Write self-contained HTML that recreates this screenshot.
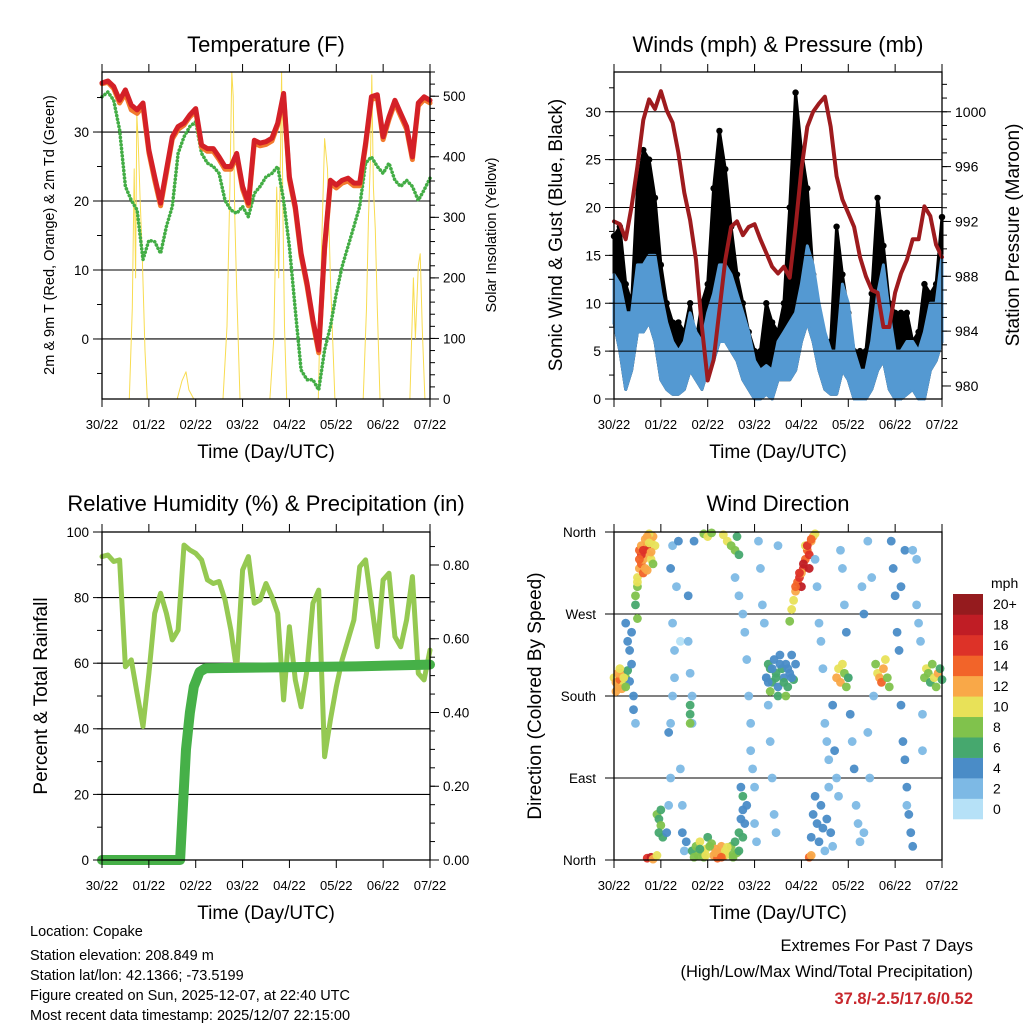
<!DOCTYPE html>
<html><head><meta charset="utf-8">
<style>
html,body{margin:0;padding:0;background:#fff;}
svg{display:block;font-family:"Liberation Sans",Arial,sans-serif;}
</style></head>
<body>
<svg id="fig" width="1024" height="1024" viewBox="0 0 1024 1024" xmlns="http://www.w3.org/2000/svg">
<rect x="0" y="0" width="1024" height="1024" fill="#fff"/>
<g id="layer"></g>
<text x="266" y="52" font-size="22" text-anchor="middle">Temperature (F)</text>
<text x="778" y="52" font-size="22" text-anchor="middle">Winds (mph) &amp; Pressure (mb)</text>
<text x="266" y="511" font-size="22" text-anchor="middle">Relative Humidity (%) &amp; Precipitation (in)</text>
<text x="778" y="511" font-size="22" text-anchor="middle">Wind Direction</text>
<text x="266" y="458" font-size="19" text-anchor="middle">Time (Day/UTC)</text>
<text x="778" y="458" font-size="19" text-anchor="middle">Time (Day/UTC)</text>
<text x="266" y="919" font-size="19" text-anchor="middle">Time (Day/UTC)</text>
<text x="778" y="919" font-size="19" text-anchor="middle">Time (Day/UTC)</text>
<text transform="translate(54,235) rotate(-90)" font-size="14.5" text-anchor="middle">2m &amp; 9m T (Red, Orange) &amp; 2m Td (Green)</text>
<text transform="translate(496,235) rotate(-90)" font-size="14.5" text-anchor="middle">Solar Insolation (Yellow)</text>
<text transform="translate(562,235) rotate(-90)" font-size="19" text-anchor="middle">Sonic Wind &amp; Gust (Blue, Black)</text>
<text transform="translate(1019,235) rotate(-90)" font-size="19" text-anchor="middle">Station Pressure (Maroon)</text>
<text transform="translate(47,696) rotate(-90)" font-size="19" text-anchor="middle">Percent &amp; Total Rainfall</text>
<text transform="translate(541,696) rotate(-90)" font-size="19" text-anchor="middle">Direction (Colored By Speed)</text>
<g font-size="14.5">
<text x="30" y="936">Location: Copake</text>
<text x="30" y="960">Station elevation: 208.849 m</text>
<text x="30" y="980">Station lat/lon: 42.1366; -73.5199</text>
<text x="30" y="1000">Figure created on Sun, 2025-12-07, at 22:40 UTC</text>
<text x="30" y="1020">Most recent data timestamp: 2025/12/07 22:15:00</text>
</g>
<text x="973" y="951" font-size="16.5" text-anchor="end">Extremes For Past 7 Days</text>
<text x="973" y="977" font-size="16.5" text-anchor="end">(High/Low/Max Wind/Total Precipitation)</text>
<text x="973" y="1004" font-size="16.5" font-weight="bold" fill="#c8282e" text-anchor="end">37.8/-2.5/17.6/0.52</text>
</svg>
<script>
// ---------- DATA (3-hourly, hours 0..168) ----------
const dayLabels = ["30/22","01/22","02/22","03/22","04/22","05/22","06/22","07/22"];
const tempRed = [37.1,37.4,36.6,34.6,36.1,33.9,33.2,34.2,27.4,23.5,19.7,24.5,29.3,30.8,31.3,32.5,33.4,28.1,27.6,27.6,26.4,25.0,25.0,26.9,22.1,19.7,28.8,28.4,28.6,29.1,31.3,35.6,23.5,19.2,12.4,8.1,2.8,-1.6,13.4,23.0,22.3,23.0,23.3,22.6,22.6,28.4,35.1,35.4,29.3,32.2,34.6,32.7,30.8,26.4,34.2,35.1,34.6];
const tempOrange = [37.0,37.2,36.3,34.2,35.6,33.2,32.7,33.7,27.0,23.0,19.3,24.0,29.0,30.4,31.0,32.2,33.0,27.8,27.2,27.2,26.0,24.6,24.6,26.5,21.7,19.3,28.4,28.0,28.2,28.7,31.0,35.2,23.1,18.8,12.0,7.7,2.4,-2.0,13.0,22.6,21.9,22.6,22.9,22.2,22.2,28.0,34.7,35.0,28.9,31.8,34.2,32.3,30.4,26.0,33.8,34.7,34.2];
const dewGreen = [35.1,35.8,34.6,30.3,22.1,20.1,18.7,11.5,14.3,14.1,12.4,16.3,19.2,26.9,29.3,30.8,31.5,26.9,25.5,25.0,24.0,20.1,18.7,18.2,19.2,17.7,21.1,22.1,23.5,24.0,25.0,20.1,13.4,4.2,-4.5,-5.9,-5.9,-7.4,-1.6,1.8,6.6,10.5,13.4,16.3,19.2,25.5,26.4,25.0,24.0,25.5,23.0,22.1,23.0,22.1,20.1,21.6,23.3];
const solarHours = [0,14,15.5,16.5,17.2,17.8,18.5,19.5,20.5,22,23.2,38.5,41,43,44.5,47,62,64,65.5,66.5,67.2,68,69,70.7,86,88,89.5,90.5,91.5,92,92.7,93.5,94.6,110.8,112.5,114,115.5,117,119.3,133.8,135.5,136.5,137.5,138.2,139,140,141,142.4,157.7,159.5,160.5,162,163,164,165.4,168];
const solarWatts = [0,0,150,380,200,470,430,330,250,80,0,0,30,45,15,0,0,120,350,540,500,300,180,0,0,100,350,200,420,540,300,120,0,0,250,430,380,200,0,0,150,300,400,535,350,280,150,0,0,200,100,220,240,120,0,0];
const sonicHi = [13,12,9,9,14,14,15,15,11,8,6,5,6,9,7,6,9,11,14,14,13,11,9,7,4,3,3.5,3,6,7,8,9,12,16,14,10,7,5,5,12,10,5,3,3,6,11,14,9,5,5,6,6,5,7,10,10,15];
const sonicLo = [8,5,1,3,7,7,8,6,2,1,0.5,0.5,1,3,2,1,3,4,6,6,5,4,2,1,0,0,0.5,0,2,2,2,3,6,8,6,3,1,0.5,0.5,3,2,0,0,0,1,3,4,1,0,0,0.5,1,0,0,3,4,6];
const gustMax = [17,18,12,10,22,26,25,21,14,10,8,8,7,10,6,10,12,22,28,24,18,13,10,7,5,5,10,8,7,10,20,32,26,22,13,9,6,6,18,13,9,5,5,5,11,21,16,10,9,9,9,6,7,12,11,12,19];
const pressure = [992.0,991.8,990.7,993.1,996.0,999.4,1000.9,1000.2,1001.5,1000.1,999.2,997.0,994.1,992.1,989.2,984.3,980.4,981.9,985.5,989.2,991.6,992.0,991.0,991.6,991.8,990.7,989.7,988.7,988.2,988.7,987.9,991.6,995.8,998.9,1000.0,1000.6,1001.1,998.9,995.3,993.6,992.6,991.6,989.4,988.0,987.0,986.8,984.3,984.3,986.8,988.2,989.2,990.7,990.7,993.1,992.4,990.3,989.4];
const relHum = [92.5,93.0,91.0,91.5,58.9,61.0,50.8,40.7,56.9,75.2,81.3,75.2,67.1,70.1,96.0,94.5,93.5,91.5,85.4,84.3,84.9,79.3,70.1,57.9,88.4,92.5,78.3,79.3,84.3,80.3,75.2,48.8,71.1,54.9,46.7,57.9,78.3,82.3,31.5,42.7,52.8,61.0,67.1,73.2,89.4,91.5,78.3,65.0,85.4,87.4,68.1,65.0,73.2,86.4,56.9,54.9,64.0];
const precipHours = [0,40,41.5,43,45,47,50,53,130,168];
const precipInches = [0,0,0.15,0.30,0.40,0.47,0.51,0.52,0.525,0.53];
const dirHours = [
0,1,2,3,4,5,6,7,8,
6,7,8,9,10,10,11,9,11,12,
11,12,12,13,14,15,16,17,18,19,20,21,15,17,19,14,16,18,13,20,
17,19,20,22,
22,23,24,23,25,24,
27,28,29,28,29,30,31,31,30,29,30,32,33,34,34,35,35,36,37,38,38,39,40,40,41,
39,39,39,
40,42,43,44,45,46,47,48,50,51,52,53,54,55,56,57,58,60,61,62,63,64,65,
46,48,50,56,58,60,62,63,64,
65,66,66,67,68,66,
62,64,66,67,68,69,70,70,71,72,72,73,74,75,76,77,78,79,80,81,82,83,84,
78,79,80,81,82,83,84,85,86,87,88,89,90,91,92,80,84,88,
90,91,92,93,94,95,96,97,98,99,100,101,102,103,96,98,100,
100,101,
101,102,103,104,105,106,107,108,109,110,111,112,
103,104,105,106,107,108,109,110,112,113,114,115,116,117,118,119,120,121,122,123,124,125,126,127,128,
114,115,116,117,118,119,120,
134,135,136,137,138,139,140,141,
142,143,144,145,146,147,148,149,150,151,152,153,150,149,147,
159,160,161,162,163,164,165,166,167,168,
155,156,157,158,158,155,153,130,132,133,130,131,128,
1,2,3,4,5,6,
12,13,14,15,16,17,18,19,
79,81,83,85,87,89,91,93,
93,95,97,99,101,
41,44,47,49,52,55,58,61,64];
const dirDegrees = [
200,195,190,198,205,192,200,208,196,
260,240,230,215,180,165,150,250,280,265,
290,300,310,320,325,330,340,345,335,350,355,345,315,318,330,335,352,358,340,325,
2,3,1,5,
50,45,38,30,25,55,
30,60,90,140,150,180,200,230,260,320,345,300,350,240,100,60,30,10,20,290,240,205,180,150,350,
170,160,150,
10,15,5,20,8,3,12,25,18,5,12,2,8,15,4,10,6,15,3,20,8,30,45,
358,355,359,357,350,345,340,355,335,
80,70,55,40,60,25,
310,290,270,250,220,180,150,120,100,80,40,20,350,320,280,260,200,170,130,90,50,30,345,
200,215,210,195,220,205,190,225,210,200,215,190,205,225,198,185,180,180,
262,275,285,295,305,310,300,320,330,340,335,350,355,358,315,345,320,
3,5,
25,50,70,40,20,60,35,10,45,80,30,15,
330,300,260,240,210,150,130,110,170,120,90,70,340,320,280,250,200,160,130,100,60,40,20,300,270,
200,210,195,215,205,190,200,
215,205,200,195,210,220,200,190,
350,320,290,250,230,170,130,110,80,50,30,15,60,340,300,
200,210,205,195,215,200,190,205,210,198,
280,260,240,160,120,330,340,350,310,180,140,90,30,
185,205,210,188,200,190,
305,330,345,340,320,355,348,338,
195,210,200,215,195,210,200,215,
300,315,325,345,352,
3,12,5,15,8,3,14,6,10];
const dirSpeeds = [
10,12,12,13,11,9,8,6,4,
4,4,3,4,4,3,2,3,6,7,
7,8,10,12,14,12,13,15,12,10,12,9,13,11,10,16,11,9,14,8,
16,18,12,10,
7,6,7,5,6,5,
3,2,2,3,2,2,1,2,2,3,2,1,3,0,1,2,3,2,3,3,1,2,1,1,4,
6,6,7,
6,7,8,9,7,8,10,6,8,11,12,13,12,11,14,10,9,8,7,6,7,5,4,
7,9,8,10,9,8,7,6,5,
4,5,4,3,4,5,
1,2,1,1,2,1,2,2,1,2,2,1,1,2,2,1,2,1,2,1,1,2,1,
4,5,6,5,4,6,4,3,5,4,4,6,3,4,5,7,6,7,
8,9,10,12,14,16,17,15,13,14,16,12,11,10,12,9,18,
14,12,
4,3,3,4,3,4,3,2,3,2,3,2,
1,2,1,2,1,2,1,2,3,3,2,1,1,2,1,3,2,3,2,3,2,1,2,2,3,
12,10,11,9,8,7,6,
8,10,12,13,11,9,8,7,
4,3,4,3,4,3,4,4,3,3,4,3,2,4,3,
8,9,7,6,8,10,7,12,6,5,
2,1,2,2,1,1,1,1,2,2,2,1,2,
12,11,10,12,9,7,
9,13,12,15,12,12,10,11,
4,4,5,4,6,4,4,3,
13,15,17,15,13,
8,6,9,7,12,13,9,8,6];
const windColors = ["#b6e1f7","#7db9e5","#4a8cc7","#46a86e","#80c24c","#e8e158","#f9a848","#f26429","#dd3228","#c01d25","#951b1e"];
const colorLabels = ["0","2","4","6","8","10","12","14","16","18","20+"];
const dirLabels = ["North","East","South","West","North"];

// ---------- helpers ----------
const NS = "http://www.w3.org/2000/svg";
const layer = document.getElementById("layer");
function mk(tag, attrs, parent){
  const e = document.createElementNS(NS, tag);
  for (const k in attrs) e.setAttribute(k, attrs[k]);
  (parent||layer).appendChild(e);
  return e;
}
function lin(d0,d1,r0,r1){ return v => r0 + (v-d0)/(d1-d0)*(r1-r0); }

const P1={L:102,R:430,T:72,B:399}, P2={L:614,R:942,T:72,B:399}, P3={L:102,R:430,T:532,B:860}, P4={L:614,R:942,T:532,B:860};
function hours(n){ const a=[]; for(let i=0;i<n;i++) a.push(i*3); return a; }
const H = hours(57);

function polyline(P, xs, ys, fx, fy, style, name){
  const pts = xs.map((x,i)=>fx(x).toFixed(1)+","+fy(ys[i]).toFixed(1)).join(" ");
  const e = mk("polyline", Object.assign({points:pts, fill:"none", "stroke-linejoin":"round", "stroke-linecap":"round"}, style));
  
  
  return e;
}
function grid(P, vals, fy, name){
  vals.forEach(v=>{
    const y=fy(v);
    const e=mk("line",{x1:P.L,x2:P.R,y1:y,y2:y,stroke:"#000","stroke-width":1.1});
    
    
  });
}
function frame(P, name){
  const e=mk("rect",{x:P.L,y:P.T,width:P.R-P.L,height:P.B-P.T,fill:"none",stroke:"#000","stroke-width":1.3});
  
  
}
function xAxis(P, fx, prefix){
  dayLabels.forEach((lab,i)=>{
    const x=fx(i*24);
    const t1=mk("line",{x1:x,x2:x,y1:P.B,y2:P.B+8,stroke:"#000","stroke-width":1});
    
    
    const t2=mk("line",{x1:x,x2:x,y1:P.T,y2:P.T-8,stroke:"#000","stroke-width":1});
    
    
    const t=mk("text",{x:x,y:P.B+30,"font-size":13,"text-anchor":"middle"});
    t.textContent=lab;
    
    
  });
}
function yTicks(P, side, fy, majors, minors, labels, prefix, fs, off){
  const x0 = side==="L"?P.L:P.R, dir = side==="L"?-1:1;
  minors.forEach(v=>{
    const y=fy(v); if(y<P.T-0.5||y>P.B+0.5) return;
    const e=mk("line",{x1:x0,x2:x0+dir*5,y1:y,y2:y,stroke:"#000","stroke-width":1});
    
    
  });
  majors.forEach((v,i)=>{
    const y=fy(v);
    const e=mk("line",{x1:x0,x2:x0+dir*9,y1:y,y2:y,stroke:"#000","stroke-width":1});
    
    
    const t=mk("text",{x:x0+dir*(off||13),y:y+fs*0.36,"font-size":fs,"text-anchor":side==="L"?"end":"start"});
    t.textContent=labels[i];
    
    
  });
}
function range(a,b,s){ const r=[]; for(let v=a; v<=b+1e-9; v+=s) r.push(+v.toFixed(4)); return r; }

// ---------- Panel 1: Temperature ----------
(function(){
  const fx=lin(0,168,P1.L,P1.R), fy=lin(-8.7,38.7,P1.B,P1.T), fs=lin(0,540,P1.B,P1.T);
  grid(P1,[0,10,20,30],fy,'temperature-gridline');
  polyline(P1,solarHours,solarWatts,fx,fs,{stroke:"#f8dc50","stroke-width":1},'solar-insolation-line');
  polyline(P1,H,dewGreen,fx,fy,{stroke:"#43ad45","stroke-width":3.6,"stroke-dasharray":"0.1 3.6"},'dewpoint-line');
  polyline(P1,H,tempOrange,fx,fy,{stroke:"#f27a2d","stroke-width":5},'temp-9m-line');
  polyline(P1,H,tempRed,fx,fy,{stroke:"#d42027","stroke-width":5},'temp-2m-line');
  frame(P1,'temperature-plot-frame');
  xAxis(P1,fx,'temperature');
  yTicks(P1,"L",fy,[0,10,20,30],range(-5,35,5),["0","10","20","30"],'temperature-y',13.5);
  yTicks(P1,"R",fs,[0,100,200,300,400,500],range(0,540,20),["0","100","200","300","400","500"],'solar-y',13.5);
})();

// ---------- Panel 2: Winds & Pressure ----------
(function(){
  const fx=lin(0,168,P2.L,P2.R), fy=lin(0,34.15,P2.B,P2.T), fp=lin(979.05,1002.9,P2.B,P2.T);
  const gpts = H.map((h,i)=>fx(h).toFixed(1)+","+fy(gustMax[i]).toFixed(1)).concat(H.slice().reverse().map((h,j)=>{const i=H.length-1-j;return fx(h).toFixed(1)+","+fy(sonicLo[i]).toFixed(1);}));
  const g=mk("polygon",{points:gpts.join(" "),fill:"#000",stroke:"#000","stroke-width":3,"stroke-linejoin":"round"});
  
  
  H.forEach((h,i)=>{
    const c=mk("circle",{cx:fx(h),cy:fy(gustMax[i]),r:3.2,fill:"#000"});
    
    
  });
  const spts = H.map((h,i)=>fx(h).toFixed(1)+","+fy(sonicHi[i]).toFixed(1)).concat(H.slice().reverse().map((h,j)=>{const i=H.length-1-j;return fx(h).toFixed(1)+","+fy(sonicLo[i]).toFixed(1);}));
  const s=mk("polygon",{points:spts.join(" "),fill:"#5499d2",stroke:"#5499d2","stroke-width":3,"stroke-linejoin":"round"});
  
  
  grid(P2,[5,10,15,20,25,30],fy,'wind-gridline');
  polyline(P2,H,pressure,fx,fp,{stroke:"#9e1b1e","stroke-width":4},'pressure-line');
  frame(P2,'winds-plot-frame');
  xAxis(P2,fx,'winds');
  yTicks(P2,"L",fy,[0,5,10,15,20,25,30],range(0,32.5,2.5),["0","5","10","15","20","25","30"],'wind-y',14);
  yTicks(P2,"R",fp,[980,984,988,992,996,1000],range(980,1002,1),["980","984","988","992","996","1000"],'pressure-y',14);
})();

// ---------- Panel 3: Humidity & Precip ----------
(function(){
  const fx=lin(0,168,P3.L,P3.R), fy=lin(0,100,P3.B,P3.T), fr=lin(0,0.8,P3.B,565);
  grid(P3,[20,40,60,80],fy,'humidity-gridline');
  polyline(P3,H,relHum,fx,fy,{stroke:"#95c952","stroke-width":5},'relative-humidity-line');
  polyline(P3,precipHours,precipInches,fx,fr,{stroke:"#46b048","stroke-width":10},'precipitation-line');
  frame(P3,'humidity-plot-frame');
  xAxis(P3,fx,'humidity');
  yTicks(P3,"L",fy,[0,20,40,60,80,100],range(0,100,10),["0","20","40","60","80","100"],'humidity-y',13.5);
  yTicks(P3,"R",fr,[0,0.2,0.4,0.6,0.8],range(0,0.85,0.05),["0.00","0.20","0.40","0.60","0.80"],'precip-y',13.5);
})();

// ---------- Panel 4: Wind Direction ----------
(function(){
  const fx=lin(0,168,P4.L,P4.R), fy=lin(0,360,P4.B,P4.T);
  grid(P4,[90,180,270],fy,'direction-gridline');
  const n=Math.min(dirHours.length,dirDegrees.length,dirSpeeds.length);
  for(let i=0;i<n;i++){
    const idx=Math.min(10,Math.max(0,Math.round(dirSpeeds[i]/2)));
    const c=mk("circle",{cx:fx(dirHours[i]),cy:fy(dirDegrees[i]),r:4.4,fill:windColors[idx],"fill-opacity":0.95});
    
    
  }
  frame(P4,'direction-plot-frame');
  xAxis(P4,fx,'direction');
  yTicks(P4,"L",fy,[0,90,180,270,360],[],dirLabels,'direction-y',13.5,18);
  const cbT=594, cbB=819, bh=(cbB-cbT)/11;
  windColors.forEach((c,i)=>{
    const y=cbB-(i+1)*bh;
    const r=mk("rect",{x:953,y:y,width:30,height:bh+0.3,fill:c});
    
    
    const t=mk("text",{x:993,y:y+bh/2+5,"font-size":14});
    t.textContent=colorLabels[i];
    
    
  });
  const m=mk("text",{x:991,y:588,"font-size":14});
  m.textContent="mph";
  
  
})();
</script>
</body></html>
